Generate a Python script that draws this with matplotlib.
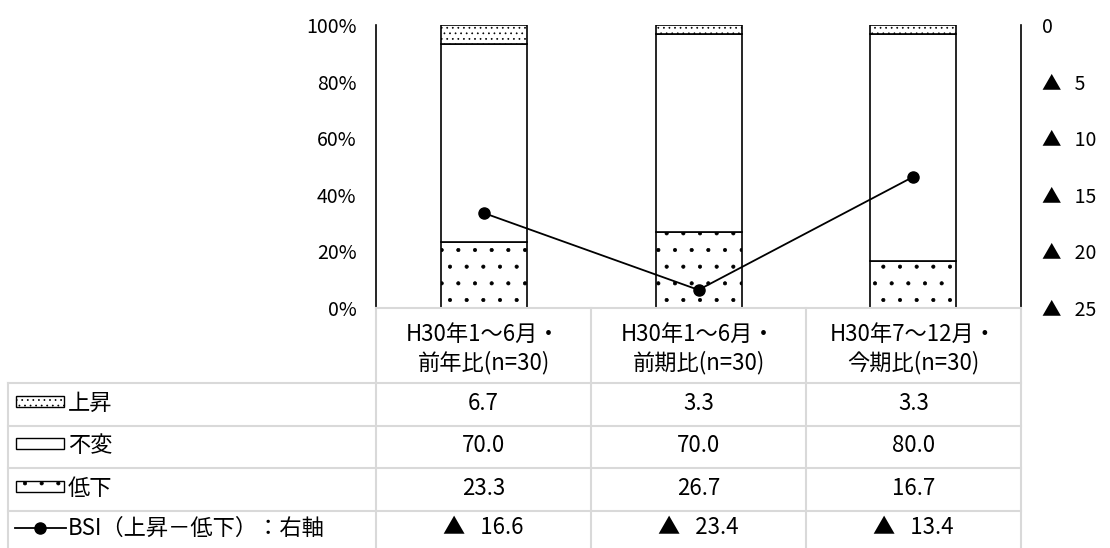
import matplotlib
matplotlib.use("Agg")
import matplotlib.pyplot as plt
from matplotlib.patches import Rectangle
from matplotlib.lines import Line2D

plt.rcParams['font.family'] = ['Noto Sans CJK JP', 'DejaVu Sans']
plt.rcParams['hatch.linewidth'] = 0.5

# survey periods (two-line headers)
periods_top = ["H30年1～6月・", "H30年1～6月・", "H30年7～12月・"]
periods_bottom = ["前年比(n=30)", "前期比(n=30)", "今期比(n=30)"]

# shares in %
rise = [6.7, 3.3, 3.3]
flat = [70.0, 70.0, 80.0]
fall = [23.3, 26.7, 16.7]

# BSI = rise - fall (right axis)
bsi = [-16.6, -23.4, -13.4]

series_names = ["上昇", "不変", "低下", "BSI（上昇－低下）：右軸"]

W, H = 1110, 548
fig = plt.figure(figsize=(W / 100, H / 100), dpi=100)

# pixel layout
plot_l, plot_r, plot_t, plot_b = 376, 1021, 25, 308
col_x = [8, 376, 591, 806, 1021]
row_y = [308, 383, 426, 468, 511, 553]
grey = "#d9d9d9"
fs = 14
tfs = 16
rise_hatch, fall_hatch = "...", "."


def fx(px):
    return px / W


def fy(py):
    return 1 - py / H


ax = fig.add_axes([fx(plot_l), fy(plot_b), fx(plot_r - plot_l), (plot_b - plot_t) / H])
x = list(range(len(rise)))
bw = 0.4
low_top = [f + s for f, s in zip(fall, flat)]
ax.bar(x, fall, bw, color="white", edgecolor="black", hatch=fall_hatch, lw=1.2)
ax.bar(x, flat, bw, bottom=fall, color="white", edgecolor="black", lw=1.2)
ax.bar(x, rise, bw, bottom=low_top, color="white", edgecolor="black", hatch=rise_hatch, lw=1.2)
ax.set_xlim(-0.5, len(x) - 0.5)
ax.set_ylim(0, 100)
ax.set_yticks(range(0, 101, 20))
ax.set_yticklabels([f"{v}%" for v in range(0, 101, 20)], fontsize=fs)
ax.set_xticks([])
ax.tick_params(axis="y", length=0, pad=14)
for s in ["top", "bottom", "right"]:
    ax.spines[s].set_visible(False)
ax.spines["left"].set_linewidth(1.2)

ax2 = ax.twinx()
ax2.plot(x, bsi, color="black", lw=1.3, marker="o", ms=8)
ax2.set_ylim(-25, 0)
ticks = [0, -5, -10, -15, -20, -25]
ax2.set_yticks(ticks)
ax2.set_yticklabels(["0" if t == 0 else f"▲   {-t}" for t in ticks], fontsize=fs)
ax2.tick_params(axis="y", length=0, pad=15)
for s in ["top", "bottom", "left"]:
    ax2.spines[s].set_visible(False)
ax2.spines["right"].set_linewidth(1.2)

# data table drawn in pixel coordinates below the plot
tab = fig.add_axes([0, 0, 1, 1])
tab.set_xlim(0, W)
tab.set_ylim(H, 0)
tab.axis("off")
tab.patch.set_alpha(0)

tab.plot([col_x[1], col_x[-1]], [row_y[0]] * 2, color=grey, lw=1.5)
for yy in row_y[1:-1]:
    tab.plot([col_x[0], col_x[-1]], [yy, yy], color=grey, lw=1.5)
tab.plot([col_x[0]] * 2, [row_y[1], H], color=grey, lw=1.5)
for xx in col_x[1:]:
    tab.plot([xx, xx], [row_y[0], H], color=grey, lw=1.5)

centers = [(col_x[i + 1] + col_x[i + 2]) / 2 for i in range(3)]
for cx, top, bot in zip(centers, periods_top, periods_bottom):
    tab.text(cx, 334, top, ha="center", va="center", fontsize=tfs)
    tab.text(cx, 363, bot, ha="center", va="center", fontsize=tfs)

rows = [
    [f"{v:.1f}" for v in rise],
    [f"{v:.1f}" for v in flat],
    [f"{v:.1f}" for v in fall],
    [f"▲   {-v:.1f}" if v < 0 else f"{v:.1f}" for v in bsi],
]
rc = [(row_y[i + 1] + row_y[i + 2]) / 2 - 1 for i in range(4)]
rc[-1] = 528
for r, (vals, yc) in enumerate(zip(rows, rc)):
    for cx, v in zip(centers, vals):
        tab.text(cx, yc, v, ha="center", va="center", fontsize=tfs)
    tab.text(68, yc, series_names[r], ha="left", va="center", fontsize=tfs)

# legend keys in the label column
keys = [(rise_hatch, rc[0]), (None, rc[1]), (fall_hatch, rc[2])]
for hatch, yc in keys:
    tab.add_patch(Rectangle((16, yc - 8), 48, 11, facecolor="white",
                            edgecolor="black", lw=1.0, hatch=hatch))
tab.add_line(Line2D([15, 66], [rc[3], rc[3]], color="black", lw=1.3))
tab.plot([40], [rc[3]], "o", color="black", ms=8)

fig.savefig("out.png", dpi=100)
